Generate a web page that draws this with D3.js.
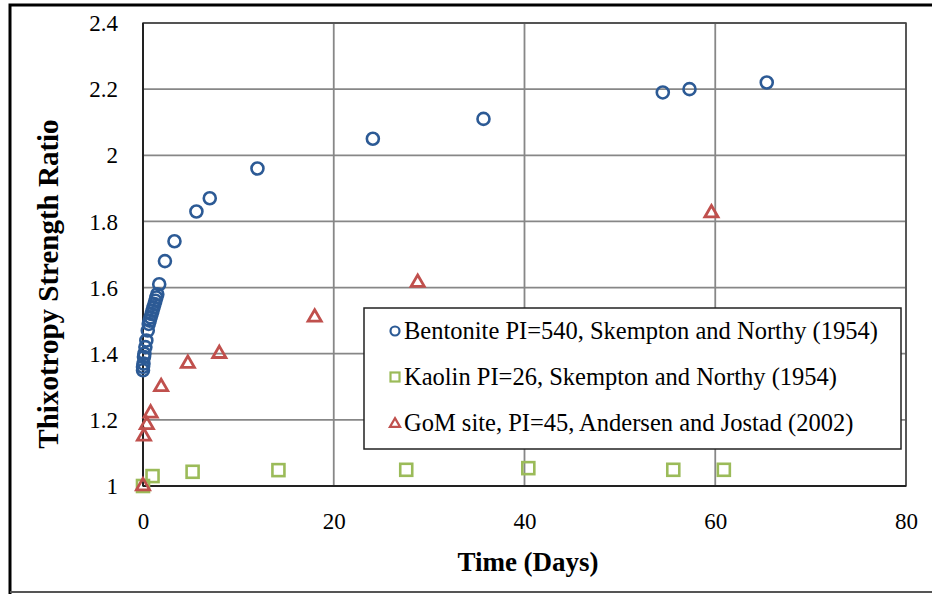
<!DOCTYPE html>
<html>
<head>
<meta charset="utf-8">
<script src="https://cdn.jsdelivr.net/npm/d3@7"></script>
<style>
  html, body { margin: 0; padding: 0; background: #fff; }
  svg { display: block; }
</style>
</head>
<body>
<svg id="chart" width="932" height="594"></svg>
<script>
// ---- data ----
const bentoniteX = [0, 0, 0.05, 0.1, 0.15, 0.25, 0.35, 0.5, 0.6, 0.7, 0.8, 0.9, 1.0, 1.1, 1.2, 1.3, 1.4, 1.5, 1.7, 2.3, 3.3, 5.6, 7.0, 12.0, 24.1, 35.7, 54.5, 57.3, 65.4];
const bentoniteY = [1.35, 1.36, 1.37, 1.39, 1.40, 1.42, 1.44, 1.47, 1.49, 1.50, 1.51, 1.52, 1.53, 1.54, 1.55, 1.56, 1.57, 1.58, 1.61, 1.68, 1.74, 1.83, 1.87, 1.96, 2.05, 2.11, 2.19, 2.20, 2.22];
const kaolinX = [0, 1.0, 5.2, 14.2, 27.6, 40.4, 55.6, 60.9];
const kaolinY = [1.00, 1.03, 1.043, 1.048, 1.049, 1.054, 1.049, 1.049];
const gomX = [0, 0.1, 0.4, 0.8, 1.9, 4.7, 8.0, 18.0, 28.8, 59.6];
const gomY = [1.00, 1.15, 1.185, 1.22, 1.30, 1.37, 1.40, 1.51, 1.615, 1.825];
const xTicks = [0, 20, 40, 60, 80];
const yTicks = [1, 1.2, 1.4, 1.6, 1.8, 2, 2.2, 2.4];
const seriesNames = [
  "Bentonite PI=540, Skempton and Northy (1954)",
  "Kaolin PI=26, Skempton and Northy (1954)",
  "GoM site, PI=45, Andersen and Jostad (2002)"
];
const xTitle = "Time (Days)";
const yTitle = "Thixotropy Strength Ratio";

// ---- layout ----
const FONT = '"Liberation Serif", "Times New Roman", Times, serif';
const svg = d3.select("#chart");
const L = 143, R = 906, T = 23, B = 486;
const x = d3.scaleLinear().domain([0, 80]).range([L, R]);
const y = d3.scaleLinear().domain([1, 2.4]).range([B, T]);

const blue = "#2C5A95", green = "#9BBB59", red = "#C0504D";

// outer frame
svg.append("path")
  .attr("d", `M10,594 L10,5 L940,5`)
  .attr("fill", "none").attr("stroke", "#000").attr("stroke-width", 3);
svg.append("line").attr("x1", 10).attr("x2", 932).attr("y1", 592).attr("y2", 592)
  .attr("stroke", "#555").attr("stroke-width", 2);

// gridlines
const grid = svg.append("g");
grid.selectAll(".gy").data(yTicks.filter(d => d > 1)).enter().append("line")
  .attr("x1", L).attr("x2", R).attr("y1", d => y(d)).attr("y2", d => y(d))
  .attr("stroke", "#878787").attr("stroke-width", 1.8);
grid.selectAll(".gx").data(xTicks.filter(d => d > 0)).enter().append("line")
  .attr("y1", T).attr("y2", B).attr("x1", d => x(d)).attr("x2", d => x(d))
  .attr("stroke", "#878787").attr("stroke-width", 1.8);

// plot border
svg.append("rect").attr("x", L).attr("y", T).attr("width", R - L).attr("height", B - T)
  .attr("fill", "none").attr("stroke", "#444").attr("stroke-width", 1.5);
svg.append("line").attr("x1", L).attr("x2", L).attr("y1", T).attr("y2", B)
  .attr("stroke", "#222").attr("stroke-width", 2);
svg.append("line").attr("x1", L).attr("x2", R).attr("y1", B).attr("y2", B)
  .attr("stroke", "#222").attr("stroke-width", 2);

// axes (labels only)
const xAxis = d3.axisBottom(x).tickValues(xTicks).tickSize(0).tickPadding(0).tickFormat(d3.format("d"));
const gx = svg.append("g").attr("transform", `translate(0,${B + 43})`).call(xAxis);
gx.select(".domain").remove();
gx.selectAll("text").attr("dy", null).attr("y", 0)
  .style("font-family", FONT).style("font-size", "23px").style("fill", "#000");

const yAxis = d3.axisLeft(y).tickValues(yTicks).tickSize(0).tickPadding(0).tickFormat(d => String(+d.toFixed(1)));
const gy = svg.append("g").attr("transform", `translate(${L - 25},0)`).call(yAxis);
gy.select(".domain").remove();
gy.selectAll("text").attr("dy", "0.33em")
  .style("font-family", FONT).style("font-size", "23px").style("fill", "#000");

// titles
svg.append("text").attr("x", 528).attr("y", 571).attr("text-anchor", "middle")
  .style("font-family", FONT).style("font-size", "27px").style("font-weight", "bold").text(xTitle);
svg.append("text").attr("transform", `translate(58,284) rotate(-90)`)
  .attr("text-anchor", "middle")
  .style("font-family", FONT).style("font-size", "29px").style("font-weight", "bold").text(yTitle);

// markers
const pts = (xs, ys) => xs.map((d, i) => [d, ys[i]]);
const tri = d3.symbol().type(d3.symbolTriangle).size(75);

svg.append("g").selectAll("circle").data(pts(bentoniteX, bentoniteY)).enter().append("circle")
  .attr("cx", d => x(d[0])).attr("cy", d => y(d[1])).attr("r", 6)
  .attr("fill", "none").attr("stroke", blue).attr("stroke-width", 2.6);

svg.append("g").selectAll("rect").data(pts(kaolinX, kaolinY)).enter().append("rect")
  .attr("x", d => x(d[0]) - 6).attr("y", d => y(d[1]) - 6).attr("width", 12).attr("height", 12)
  .attr("fill", "none").attr("stroke", green).attr("stroke-width", 2.6);

svg.append("g").selectAll("path").data(pts(gomX, gomY)).enter().append("path")
  .attr("transform", d => `translate(${x(d[0])},${y(d[1])})`).attr("d", tri)
  .attr("fill", "none").attr("stroke", red).attr("stroke-width", 2.8);

// legend
const lg = svg.append("g");
lg.append("rect").attr("x", 364).attr("y", 308).attr("width", 537).attr("height", 141)
  .attr("fill", "#fff").attr("stroke", "#222").attr("stroke-width", 1.5);
const rowsY = [331, 377, 423];
lg.append("circle").attr("cx", 395).attr("cy", rowsY[0]).attr("r", 4.5)
  .attr("fill", "none").attr("stroke", blue).attr("stroke-width", 2.2);
lg.append("rect").attr("x", 390.5).attr("y", rowsY[1] - 4.5).attr("width", 9).attr("height", 9)
  .attr("fill", "none").attr("stroke", green).attr("stroke-width", 2.2);
lg.append("path").attr("transform", `translate(395,${rowsY[2] + 1})`)
  .attr("d", d3.symbol().type(d3.symbolTriangle).size(45))
  .attr("fill", "none").attr("stroke", red).attr("stroke-width", 2.2);
lg.selectAll("text.lt").data(seriesNames).enter().append("text")
  .attr("x", 404).attr("y", (d, i) => rowsY[i] + 8)
  .style("font-family", FONT).style("font-size", "24.5px").style("fill", "#000")
  .text(d => d);
</script>
</body>
</html>
